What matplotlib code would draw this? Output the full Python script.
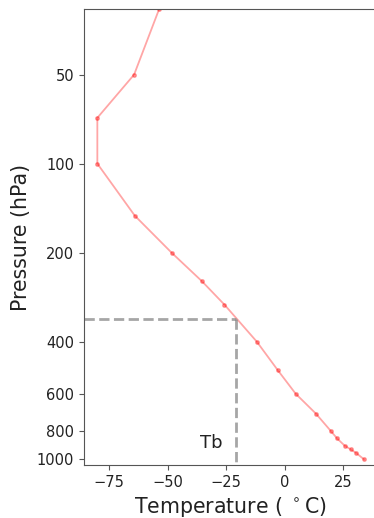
import numpy as np
import matplotlib
matplotlib.use('Agg')
import matplotlib.pyplot as plt
from matplotlib.ticker import FixedLocator, NullLocator, FixedFormatter

# sounding
pressure = [1000, 950, 925, 900, 850, 800, 700, 600, 500, 400, 300, 250, 200, 150, 100, 70, 50, 30]
temperature = [33.9, 30.4, 28.2, 25.7, 22.4, 19.6, 13.3, 4.7, -2.9, -11.9, -25.7, -35.3, -48.3, -64.0, -80.0, -80.0, -64.3, -53.6]
p_ticks = [50, 100, 200, 400, 600, 800, 1000]
tb = -20.6
pb = 335

fig = plt.figure(figsize=(3.74, 5.18), dpi=100)
ax = fig.add_axes([0.2246, 0.1023, 0.7845, 0.8803])

ax.plot(temperature, pressure, color='red', alpha=0.35, lw=1.3, marker='o', markersize=2.5)
ax.set_yscale('log')
ax.set_ylim(1045, 30)
ax.set_xlim(-85.7, 39.6)
ax.yaxis.set_major_locator(FixedLocator(p_ticks))
ax.yaxis.set_major_formatter(FixedFormatter([str(p) for p in p_ticks]))
ax.yaxis.set_minor_locator(NullLocator())
ax.set_xticks([-75, -50, -25, 0, 25])

# Tb guide lines
ax.plot([-85.7, tb], [pb, pb], color='gray', alpha=0.7, lw=2, ls='--')
ax.plot([tb, tb], [pb, 1045], color='gray', alpha=0.7, lw=2, ls='--')
ax.text(-36, 912, 'Tb', fontsize=13, color='#222222')

for s in ax.spines.values():
    s.set_color('#555555')
ax.tick_params(labelsize=10.5, colors='#555555', labelcolor='#222222')
ax.set_xlabel('Temperature ( $^\\circ$C)', fontsize=14.8, color='#222222')
ax.set_ylabel('Pressure (hPa)', fontsize=14.8, color='#222222')

fig.savefig('out.png', dpi=100)
